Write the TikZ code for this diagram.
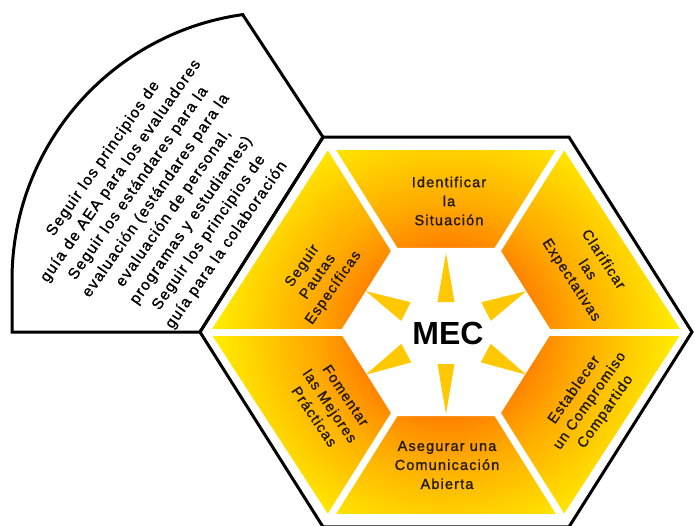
\documentclass[tikz,border=0pt]{standalone}
\usepackage{fontspec}
\setmainfont{Liberation Sans}
\newfontfamily\mecfont[LetterSpace=8, FakeBold=1.2]{Liberation Sans}
\usetikzlibrary{calc}

\definecolor{mecorange}{RGB}{255,128,0}
\definecolor{mecamber}{RGB}{255,170,0}
\definecolor{mecyellow}{RGB}{255,236,0}
\definecolor{mecray}{RGB}{255,200,0}
\definecolor{mecink}{RGB}{35,25,10}
\pgfdeclareradialshading{mecglow}{\pgfpoint{0bp}{0bp}}{color(0bp)=(mecorange); color(9bp)=(mecorange); color(14bp)=(mecamber); color(24bp)=(mecyellow); color(50bp)=(mecyellow)}

\tikzset{
  segtext/.style={font=\mecfont\fontsize{14.5}{19}\selectfont, text=mecink, align=center},
  fantext/.style={font=\mecfont\fontsize{15.5}{21.5}\selectfont, text=black, align=center},
  ray/.style={fill=mecray},
  seggap/.style={draw=white, line width=7pt},
  rim/.style={draw=black, line width=3pt, line join=miter}
}

\begin{document}
\begin{tikzpicture}[x=1pt, y=1pt]

  \useasboundingbox (0,0) rectangle (695,525);
  \coordinate (c) at (446,193);
  \foreach \a [count=\i] in {0,60,...,300}
    \coordinate (h\i) at ($(c)+(\a:246 and 225)$);

  % Define the segments
  \begin{scope}[shift={(c)}]
    \clip (0:236 and 210) \foreach \a in {60,120,...,300} { -- (\a:236 and 210) } -- cycle;
    \shade[shading=mecglow] (0,0) ellipse (240 and 230);
    \fill[white] (0:106 and 97) \foreach \a in {60,120,...,300} { -- (\a:106 and 97) } -- cycle;
    \foreach \a in {0,60,...,300}
      \draw[seggap] (\a:100 and 92) -- (\a:250 and 230);
  \end{scope}

  % Rays round the centre
  \foreach \a/\rb/\rt/\w in {90/30/79/8.5, -90/32/82/8.5, 27/45/90/10.5, -28/45/91/10.5, 153/45/90/10.5, 208/45/91/10.5}
    \fill[ray, rotate around={\a:(c)}] ($(c)+(\rb,-\w)$) -- ($(c)+(\rt,0)$) -- ($(c)+(\rb,\w)$) -- cycle;

  % Outline and side panel
  \draw[rim, fill=white] (h4) -- (12,193) -- (12,245) arc[start angle=180, end angle=98, radius=268] -- (h3) -- cycle;
  \draw[rim] (h1) -- (h2) -- (h3) -- (h4) -- (h5) -- (h6) -- cycle;

  % Define nodes
  \node[font=\fontsize{32}{32}\selectfont\bfseries, text=black] (mec) at (448,192) {MEC};
  \node[segtext] (identificar) at (449,324) {Identificar\\la\\Situación};
  \node[segtext, rotate=-57] (clarificar) at (587,255) {Clarificar\\las\\Expectativas};
  \node[segtext, rotate=55] (establecer) at (590,124) {Establecer\\un Compromiso\\Compartido};
  \node[segtext] (asegurar) at (447,60) {Asegurar una\\Comunicación\\Abierta};
  \node[segtext, rotate=-56] (fomentar) at (330,119) {Fomentar\\las Mejores\\Prácticas};
  \node[segtext, rotate=55] (pautas) at (318,248) {Seguir\\Pautas\\Específicas};
  \node[fantext, rotate=55] (principios) at (165,323) {Seguir los principios de\\guía de AEA para los evaluadores\\Seguir los estándares para la\\evaluación (estándares para la\\evaluación de personal,\\programas y estudiantes)\\Seguir los principios de\\guía para la colaboración};

\end{tikzpicture}
\end{document}
